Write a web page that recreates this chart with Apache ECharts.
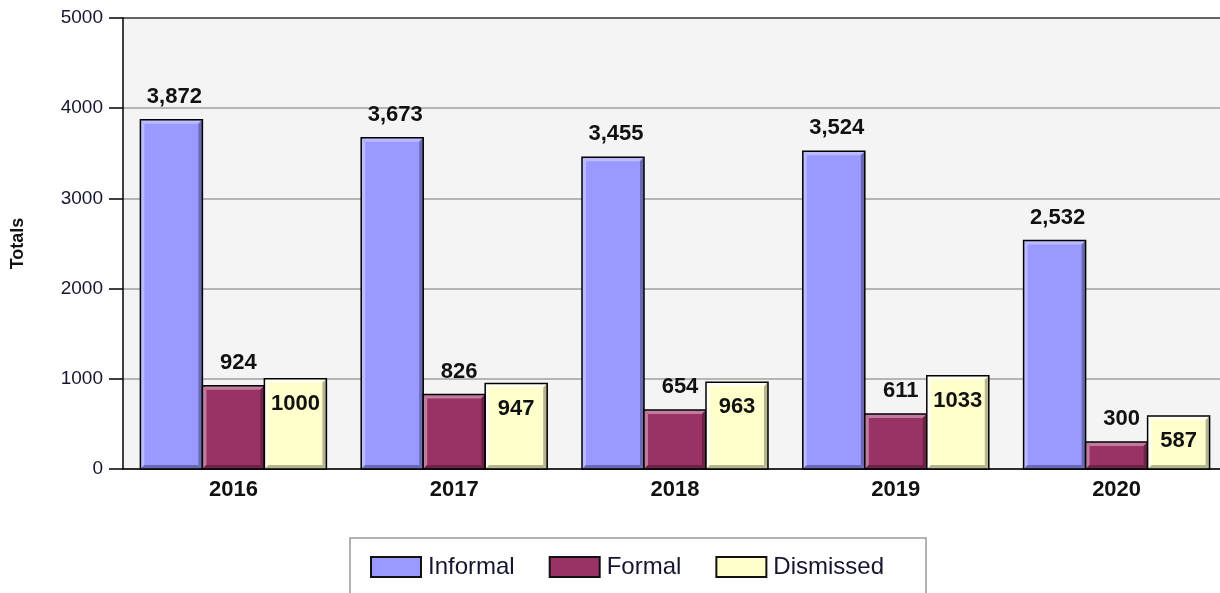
<!DOCTYPE html>
<html>
<head>
<meta charset="utf-8">
<script src="https://cdn.jsdelivr.net/npm/echarts@6/dist/echarts.min.js"></script>
<style>
  html, body { margin: 0; padding: 0; background: #ffffff; }
  #chart { width: 1220px; height: 593px; }
</style>
</head>
<body>
<div id="chart"></div>
<script>
// Yearly totals by outcome
const years = ['2016', '2017', '2018', '2019', '2020'];
const informal = [3872, 3673, 3455, 3524, 2532];
const formal = [924, 826, 654, 611, 300];
const dismissed = [1000, 947, 963, 1033, 587];

const SANS = '"Liberation Sans", Arial, sans-serif';
const VALUE_FONT = 'bold 22px ' + SANS;
const BAR_RATIO = 62 / 220.8;   // bar width as a share of the category band
const BEVEL = 4;

const palettes = {
  informal:  { base: '#9999ff', light: '#babaff', dark: '#6a6ab4' },
  formal:    { base: '#993366', light: '#c07c9e', dark: '#6c2347' },
  dismissed: { base: '#ffffcc', light: '#fffff2', dark: '#b4b48f' }
};

function fmtComma(v) { return v.toLocaleString('en-US'); }
function fmtPlain(v) { return String(v); }

// Bevelled bar: light top/left edges, dark right/bottom edges, black outline,
// plus a value label either above the bar or just inside its top.
function bevelBar(slot, pal, fmt, labelInside, labelShift) {
  return function (params, api) {
    const idx = api.value(0);
    const v = api.value(1);
    const p0 = api.coord([idx, 0]);
    const p1 = api.coord([idx, v]);
    const band = api.size([1, 0])[0];
    const w = band * BAR_RATIO;
    const x = p0[0] + (slot - 1.5) * w;
    const y = p1[1];
    const h = p0[1] - p1[1];
    const b = Math.min(BEVEL, h / 2);
    const cx = x + w / 2;
    return {
      type: 'group',
      children: [
        { type: 'rect', shape: { x: x, y: y, width: w, height: h }, style: { fill: pal.base } },
        { type: 'polygon', shape: { points: [[x, y], [x + w, y], [x + w - b, y + b], [x + b, y + b]] }, style: { fill: pal.light } },
        { type: 'polygon', shape: { points: [[x, y], [x + b, y + b], [x + b, y + h - b], [x, y + h]] }, style: { fill: pal.light } },
        { type: 'polygon', shape: { points: [[x + w, y], [x + w, y + h], [x + w - b, y + h - b], [x + w - b, y + b]] }, style: { fill: pal.dark } },
        { type: 'polygon', shape: { points: [[x, y + h], [x + w, y + h], [x + w - b, y + h - b], [x + b, y + h - b]] }, style: { fill: pal.dark } },
        { type: 'rect', shape: { x: x, y: y, width: w, height: h }, style: { fill: null, stroke: '#000000', lineWidth: 1.5 } },
        {
          type: 'text',
          style: {
            text: fmt(v),
            x: cx + labelShift,
            y: labelInside ? y + 25 : y - 23,
            align: 'center',
            verticalAlign: 'middle',
            font: VALUE_FONT,
            fill: '#111111'
          }
        }
      ]
    };
  };
}

function makeSeries(name, values, slot, pal, fmt, inside, shift) {
  return {
    name: name,
    type: 'custom',
    renderItem: bevelBar(slot, pal, fmt, inside, shift),
    itemStyle: { color: pal.base, borderColor: '#000', borderWidth: 1.5 },
    encode: { x: 0, y: 1 },
    data: values.map(function (v, i) { return [i, v]; }),
    clip: false
  };
}

const chart = echarts.init(document.getElementById('chart'), null, { renderer: 'canvas' });

chart.setOption({
  animation: false,
  backgroundColor: '#ffffff',
  grid: {
    left: 123, top: 18, width: 1104, height: 451,
    outerBoundsMode: 'none',
    containLabel: false,
    show: true, backgroundColor: '#f4f4f4', borderWidth: 0
  },
  legend: {
    left: 350, top: 538,
    padding: [17, 42, 40, 20],
    borderColor: '#9a9a9a', borderWidth: 1.5,
    itemGap: 34, itemWidth: 50, itemHeight: 20,
    icon: 'rect',
    itemStyle: { borderColor: '#111', borderWidth: 2 },
    textStyle: { fontFamily: SANS, fontSize: 24, color: '#151530', padding: [0, 0, 0, 2] },
    data: ['Informal', 'Formal', 'Dismissed']
  },
  xAxis: {
    type: 'category',
    data: years,
    axisLine: { lineStyle: { color: '#000', width: 1.5 } },
    axisTick: { alignWithLabel: true, length: 7, lineStyle: { color: '#333' } },
    axisLabel: { margin: 10, color: '#111', fontFamily: SANS, fontWeight: 'bold', fontSize: 22 },
    splitLine: { show: false }
  },
  yAxis: {
    type: 'value',
    min: 0, max: 5000, interval: 1000,
    name: 'Totals',
    nameLocation: 'middle',
    nameGap: 96,
    nameTextStyle: { fontFamily: SANS, fontWeight: 'bold', fontSize: 18, color: '#111' },
    axisLine: { show: true, lineStyle: { color: '#000', width: 1.5 } },
    axisTick: { show: true, length: 14, lineStyle: { color: '#000', width: 1.5 } },
    axisLabel: {
      margin: 20, color: '#151530', fontFamily: SANS, fontSize: 19,
      formatter: function (v) { return String(v); }
    },
    splitLine: { lineStyle: { color: ['#a0a0a0', '#a0a0a0', '#a0a0a0', '#a0a0a0', '#a0a0a0', '#333333'], width: 1.5 } }
  },
  series: [
    makeSeries('Informal', informal, 0, palettes.informal, fmtComma, false, 3),
    makeSeries('Formal', formal, 1, palettes.formal, fmtPlain, false, 5),
    makeSeries('Dismissed', dismissed, 2, palettes.dismissed, fmtPlain, true, 0)
  ]
});
</script>
</body>
</html>
